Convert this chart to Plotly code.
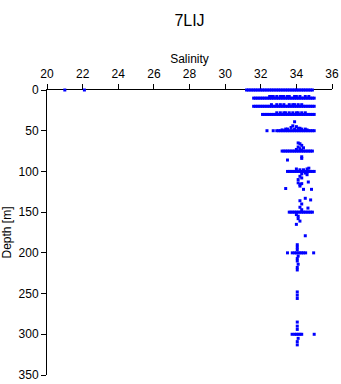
import plotly.graph_objects as go

# ---- data: salinity readings grouped by depth (m) ----
sal_row_0 = [21.0, 22.1, 31.2, 31.3, 31.4, 31.5, 31.6, 31.7, 31.8, 31.9, 32.0, 32.1, 32.2, 32.3,
             32.4, 32.5, 32.6, 32.7, 32.8, 32.9, 33.0, 33.1, 33.2, 33.3, 33.4, 33.5, 33.6,
             33.7, 33.8, 33.9, 34.0, 34.1, 34.2, 34.3, 34.4, 34.5, 34.6, 34.7, 34.8, 34.9]
sal_row_8 = [32.5, 32.6, 32.7, 32.9, 33.1, 33.2, 33.3, 33.5, 33.6, 33.9, 34.0, 34.2, 34.5, 34.7]
sal_row_10 = [31.6, 31.7, 31.8, 31.9, 32.0, 32.1, 32.2, 32.3, 32.4, 32.5, 32.6, 32.7, 32.8,
              32.9, 33.0, 33.1, 33.2, 33.3, 33.4, 33.5, 33.6, 33.7, 33.8, 33.9, 34.0, 34.1,
              34.2, 34.3, 34.4, 34.5, 34.6, 34.7, 34.8, 34.9, 35.0]
sal_row_18 = [32.6, 32.9, 33.1, 33.3, 33.6, 33.8, 33.9, 34.1, 34.3]
sal_row_20 = [31.6, 31.7, 31.8, 31.9, 32.0, 32.1, 32.2, 32.3, 32.4, 32.5, 32.6, 32.7, 32.8,
              32.9, 33.0, 33.1, 33.2, 33.3, 33.4, 33.5, 33.6, 33.7, 33.8, 33.9, 34.0, 34.1,
              34.2, 34.3, 34.4, 34.5, 34.6, 34.7, 34.8, 34.9, 35.0]
sal_row_28 = [32.9, 33.1, 33.3, 33.4, 33.6, 33.8, 34.0, 34.1, 34.3, 34.5]
sal_row_30 = [32.1, 32.2, 32.3, 32.4, 32.5, 32.6, 32.7, 32.8, 32.9, 33.0, 33.1, 33.2, 33.3,
              33.4, 33.5, 33.6, 33.7, 33.8, 33.9, 34.0, 34.1, 34.2, 34.3, 34.4, 34.5, 34.6,
              34.7, 34.8, 34.9, 35.0]
sal_row_50 = [32.35, 32.7, 32.9, 33.0, 33.1, 33.2, 33.3, 33.4, 33.5, 33.6, 33.7, 33.8, 33.9,
              34.0, 34.1, 34.2, 34.3, 34.4, 34.5, 34.6, 34.7, 34.8, 34.9, 35.0]
sal_row_75 = [33.2, 33.3, 33.4, 33.5, 33.6, 33.7, 33.8, 33.9, 34.0, 34.1, 34.2, 34.3, 34.4,
              34.5, 34.6, 34.7, 34.8, 34.9]
sal_row_100 = [33.5, 33.6, 33.7, 33.8, 33.9, 34.0, 34.1, 34.2, 34.3, 34.4, 34.5, 34.6, 34.7,
               34.8, 34.9, 35.0]
sal_row_150 = [33.6, 33.7, 33.8, 33.9, 34.0, 34.1, 34.2, 34.3, 34.4, 34.5, 34.6, 34.7, 34.8, 34.9]
sal_row_200 = [33.5, 33.77, 33.9, 34.0, 34.1, 34.2, 34.3, 34.4, 34.52, 34.97]
sal_row_300 = [33.76, 33.9, 34.0, 34.1, 34.2, 34.3, 35.0]

# scattered individual readings
sal_scatter = [33.9, 33.8, 34.0, 33.7, 34.1, 33.5, 34.3, 33.2, 34.6, 33.4, 33.9, 34.2, 34.5,
               34.1, 34.2, 34.3, 34.1, 34.4, 34.2, 34.0, 34.3, 33.5, 34.3, 34.3, 34.0, 34.6,
               34.2, 34.4, 34.7, 34.3, 34.6, 34.2, 34.5, 34.3, 34.6, 34.1, 34.2, 34.67, 33.4,
               34.1, 34.3, 34.2, 34.4, 34.85, 34.5, 34.2, 34.3, 34.8, 34.65, 34.2, 34.3, 34.0,
               34.1, 34.1, 34.2, 34.0, 34.5, 34.05, 34.05, 34.05, 34.1, 34.05, 34.05, 34.1,
               34.05, 34.05, 34.05, 34.05, 34.05, 34.05, 34.05, 34.05, 34.1, 34.05, 34.05]
depth_scatter = [39, 44, 45, 46, 47, 48, 48, 49, 49, 48, 48, 47, 48,
                 65, 66, 68, 70, 71, 72, 73, 74, 86, 82, 84, 97, 97,
                 98, 98, 96, 103, 104, 106, 102, 108, 101, 110, 118, 113, 121,
                 114, 115, 116, 122, 122, 133, 136, 140, 135, 145, 144, 147, 153,
                 155, 158, 161, 165, 179, 190, 193, 196, 204, 207, 210, 214,
                 218, 221, 248, 252, 256, 285, 290, 294, 305, 309, 313]

rows = [
    (0, sal_row_0), (8, sal_row_8), (10, sal_row_10), (18, sal_row_18),
    (20, sal_row_20), (28, sal_row_28), (30, sal_row_30), (50, sal_row_50),
    (75, sal_row_75), (100, sal_row_100), (150, sal_row_150), (200, sal_row_200),
    (300, sal_row_300),
]

xs, ys = [], []
for d, sals in rows:
    xs.extend(sals)
    ys.extend([d] * len(sals))
xs.extend(sal_scatter)
ys.extend(depth_scatter)

fig = go.Figure(go.Scatter(
    x=xs, y=ys, mode="markers",
    marker=dict(symbol="square", size=3, color="#0000FF", line=dict(width=0)),
    cliponaxis=False, hoverinfo="skip",
))

font = "Liberation Sans, Arial, sans-serif"
fig.update_layout(
    width=341, height=384,
    margin=dict(l=47, r=9, t=90, b=9),
    paper_bgcolor="white", plot_bgcolor="white",
    showlegend=False,
    font=dict(family=font, size=12, color="black"),
    title=dict(text="7LIJ", x=0.5, xref="paper", y=1 - 20 / 384, yref="container",
               yanchor="middle", xanchor="center", font=dict(size=16, color="black")),
    xaxis=dict(
        side="top", range=[20, 36], dtick=2, tick0=20,
        showline=True, linecolor="black", linewidth=1,
        ticks="outside", ticklen=5, tickcolor="black", ticklabelstandoff=1,
        showgrid=False, zeroline=False, layer="below traces", automargin=False,
        title=dict(text="Salinity", standoff=1, font=dict(size=12)),
        tickfont=dict(size=12),
    ),
    yaxis=dict(
        range=[350, 0], dtick=50, tick0=0,
        showline=True, linecolor="black", linewidth=1,
        ticks="outside", ticklen=5, tickcolor="black",
        showgrid=False, zeroline=False, layer="below traces", automargin=False,
        title=dict(text="Depth [m]", standoff=4, font=dict(size=12)),
        tickfont=dict(size=12),
    ),
)

fig.write_html("out.html")
